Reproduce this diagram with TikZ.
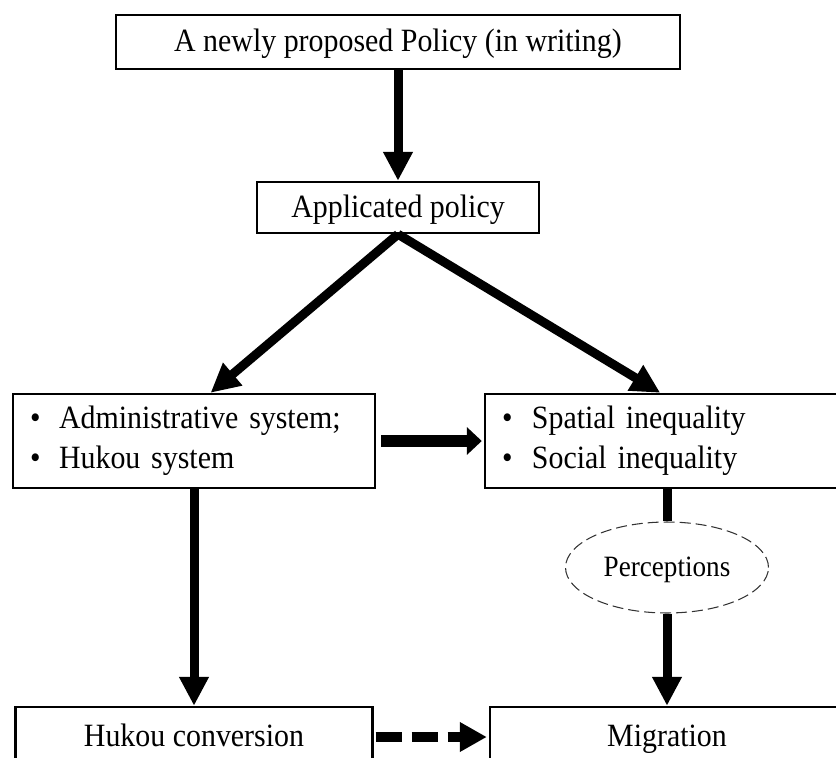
\documentclass[tikz,border=0pt]{standalone}
\usepackage{fontspec}
\setmainfont{Liberation Serif}[FakeStretch=0.92]
\usepackage{tikz}
\usetikzlibrary{positioning,arrows.meta,shapes.geometric}

\begin{document}
\begin{tikzpicture}[x=0.02cm, y=-0.02cm,
    box/.style={draw, line width=1.4pt, rectangle, inner sep=0, font=\fontsize{18.5}{22.8}\selectfont},
    onebox/.style={box, text height=0.42cm, text depth=0.04cm},
    listbox/.style={box, align=left, inner xsep=0.34cm, minimum height=1.88cm},
    bigarrow/.style={line width=0.18cm, -{Triangle[width=0.56cm, length=0.58cm]}},
    flatarrow/.style={line width=0.24cm, -{Triangle[width=0.54cm, length=0.3cm]}},
    dasharrow/.style={line width=0.2cm, dash pattern=on 0.52cm off 0.2cm, -{Triangle[width=0.56cm, length=0.54cm]}},
    cloud/.style={ellipse, draw=black!80, line width=0.6pt, dash pattern=on 0.22cm off 0.1cm,
        minimum width=4.06cm, minimum height=1.82cm, inner sep=0, text height=0.38cm, text depth=0.04cm,
        font=\fontsize{16.8}{18}\selectfont}
  ]
\useasboundingbox (0,0) rectangle (836,758);
\clip (0,0) rectangle (836,758);

\node[onebox, minimum width=11.28cm, minimum height=1.08cm] (policy) at (398,42) {A newly proposed Policy (in writing)};
\node[onebox, minimum width=5.64cm, minimum height=1.02cm] (applied) at (398,207.5) {Applicated policy};

\node[listbox, text width=6.56cm] (admin) at (194,441) {\makebox[0.58cm][l]{\textbullet}Administrative system;\\\makebox[0.58cm][l]{\textbullet}Hukou system};
\node[listbox, text width=6.6cm] (inequal) at (667,441) {\makebox[0.6cm][l]{\textbullet}Spatial inequality\\\makebox[0.6cm][l]{\textbullet}Social inequality};

\node[cloud] (percep) at (667,567.5) {Perceptions};

\node[onebox, minimum width=7.14cm, minimum height=1.2cm] (hukou) at (194,737) {Hukou conversion};
\node[onebox, minimum width=7.08cm, minimum height=1.2cm] (migr) at (667,737) {Migration};

\draw[bigarrow] (policy) -- (applied);
\draw[bigarrow] (applied.south) -- (admin.71);
\draw[bigarrow] (applied.south) -- (inequal.98);
\draw[flatarrow, shorten <=0.1cm, shorten >=0.04cm] (admin) -- (inequal);
\draw[line width=0.18cm] (inequal) -- (percep);
\draw[bigarrow] (percep) -- (migr);
\draw[bigarrow] (admin) -- (hukou);
\draw[dasharrow, shorten <=0.04cm, shorten >=0.04cm] (hukou) -- (migr);
\end{tikzpicture}
\end{document}
